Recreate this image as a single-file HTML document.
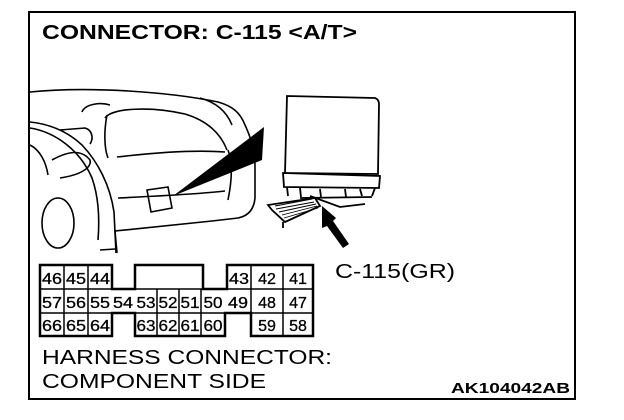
<!DOCTYPE html>
<html><head><meta charset="utf-8"><style>
html,body{margin:0;padding:0;background:#fff}
svg{display:block}
</style></head><body>
<svg width="624" height="420" viewBox="0 0 624 420" xmlns="http://www.w3.org/2000/svg" font-family="Liberation Sans, sans-serif">
<rect x="29" y="12" width="546" height="387" fill="none" stroke="#000" stroke-width="2"/>
<text x="42" y="39" font-size="20" font-weight="bold" textLength="315" lengthAdjust="spacingAndGlyphs">CONNECTOR: C-115 &lt;A/T&gt;</text>

<g fill="none" stroke="#000" stroke-width="1.6">
<path d="M30 92 C90 86 170 92 218 102 C232 106 240 112 245 125 C252 140 255 152 255 165 L255 198 C254 210 248 216 238 218 L212 221 L115 231 L117 253"/>
<path d="M30 122 C50 124 68 132 82 145 C98 162 110 185 114 212 L116 253"/>
<path d="M30 128 C55 132 80 150 92 178 C98 195 100 215 98 240"/>
<path d="M30 145 C40 150 46 162 48 175"/>
<path d="M52 160 C70 150 82 150 90 160 C92 168 80 175 60 178"/>
<path d="M60 130 L85 128 C92 130 94 138 90 144"/>
<ellipse cx="58" cy="223" rx="16" ry="25"/>
<path d="M82 112 C85 104 100 102 110 105"/>
<path d="M105 118 C112 108 150 106 185 114 C205 120 220 132 227 150"/>
<path d="M107 115 C104 130 104 148 108 158"/>
<path d="M117 157 C160 152 200 150 225 152"/>
<path d="M118 198 C160 196 200 194 225 191"/>
<path d="M228 150 C232 160 233 175 228 200"/>
<path d="M200 98 C215 102 226 110 232 125"/>
<path d="M147 190 L168 187 L172 208 L151 212 Z"/>
<path d="M100 250 L115 249"/>
</g>
<polygon points="173,196 264,127 262,160" fill="#000"/>

<g fill="none" stroke="#000" stroke-width="1.8">
<path d="M287 96 L375 98 C378 99 379 101 379 104 L378 174 L285 173 Z"/>
<path d="M283 173 L380 176 L379 188 L284 187 Z"/>
<path d="M287 187 L288 196 M300 188 L301 197 M320 189 L321 197 M345 189 L346 197 M360 189 L362 196 M375 188 L372 196"/>
<path d="M300 198 L372 197"/>
<path d="M310 196 L340 207 L365 204"/>
<path d="M268 205 L272 210 L285 222 L320 206 L315 198 Z"/>
<path d="M283 222 L283 228"/>
</g>
<g stroke="#000" stroke-width="0.9">
<path d="M275 206 L312 199 M276 209 L314 202 M279 212 L316 204 M282 215 L317 206 M284 218 L318 208"/>
</g>
<polygon points="322,206 336,218 333,221 349,244 343,248 327,226 322,228" fill="#000"/>
<text x="335" y="278" font-size="20" textLength="120" lengthAdjust="spacingAndGlyphs">C-115(GR)</text>

<g fill="none" stroke="#000" stroke-width="2.5">
<path d="M40 265 L112 265 L112 289 L135 289 L135 265 L203 265 L203 289 L227 289 L227 265 L313 265 L313 336 L251 336 L251 313 L225 313 L225 336 L135 336 L135 313 L112 313 L112 336 L40 336 Z"/>
</g>
<g fill="none" stroke="#000" stroke-width="1.5">
<path d="M40 289 L112 289 M40 313 L112 313 M112 313 L135 313 M135 289 L227 289 M135 313 L225 313 M227 289 L313 289 M225 313 L313 313 M251 265 L251 336"/>
<path d="M64 265 L64 336 M88 265 L88 336 M157 289 L157 336 M179 289 L179 336 M201 289 L201 336 M283 265 L283 336"/>
</g>
<g font-size="16" text-anchor="middle" stroke="#000" stroke-width="0.3">
<text x="52" y="284" textLength="20" lengthAdjust="spacingAndGlyphs">46</text><text x="76" y="284" textLength="20" lengthAdjust="spacingAndGlyphs">45</text><text x="100" y="284" textLength="20" lengthAdjust="spacingAndGlyphs">44</text>
<text x="239" y="284" textLength="20" lengthAdjust="spacingAndGlyphs">43</text><text x="267" y="284">42</text><text x="298" y="284">41</text>
<text x="52" y="308" textLength="20" lengthAdjust="spacingAndGlyphs">57</text><text x="76" y="308" textLength="20" lengthAdjust="spacingAndGlyphs">56</text><text x="100" y="308" textLength="20" lengthAdjust="spacingAndGlyphs">55</text><text x="123" y="308" textLength="20" lengthAdjust="spacingAndGlyphs">54</text>
<text x="146" y="308" textLength="19" lengthAdjust="spacingAndGlyphs">53</text><text x="168" y="308" textLength="19" lengthAdjust="spacingAndGlyphs">52</text><text x="190" y="308" textLength="19" lengthAdjust="spacingAndGlyphs">51</text><text x="213" y="308" textLength="19" lengthAdjust="spacingAndGlyphs">50</text>
<text x="238" y="308" textLength="20" lengthAdjust="spacingAndGlyphs">49</text><text x="267" y="308">48</text><text x="298" y="308">47</text>
<text x="52" y="331" textLength="20" lengthAdjust="spacingAndGlyphs">66</text><text x="76" y="331" textLength="20" lengthAdjust="spacingAndGlyphs">65</text><text x="100" y="331" textLength="20" lengthAdjust="spacingAndGlyphs">64</text>
<text x="146" y="331" textLength="19" lengthAdjust="spacingAndGlyphs">63</text><text x="168" y="331" textLength="19" lengthAdjust="spacingAndGlyphs">62</text><text x="190" y="331" textLength="19" lengthAdjust="spacingAndGlyphs">61</text><text x="213" y="331" textLength="19" lengthAdjust="spacingAndGlyphs">60</text>
<text x="267" y="331">59</text><text x="298" y="331">58</text>
</g>

<text x="42" y="364" font-size="20" textLength="290" lengthAdjust="spacingAndGlyphs">HARNESS CONNECTOR:</text>
<text x="42" y="388" font-size="20" textLength="224" lengthAdjust="spacingAndGlyphs">COMPONENT SIDE</text>
<text x="451" y="393" font-size="15" font-weight="bold" textLength="119" lengthAdjust="spacingAndGlyphs">AK104042AB</text>
</svg>
</body></html>
